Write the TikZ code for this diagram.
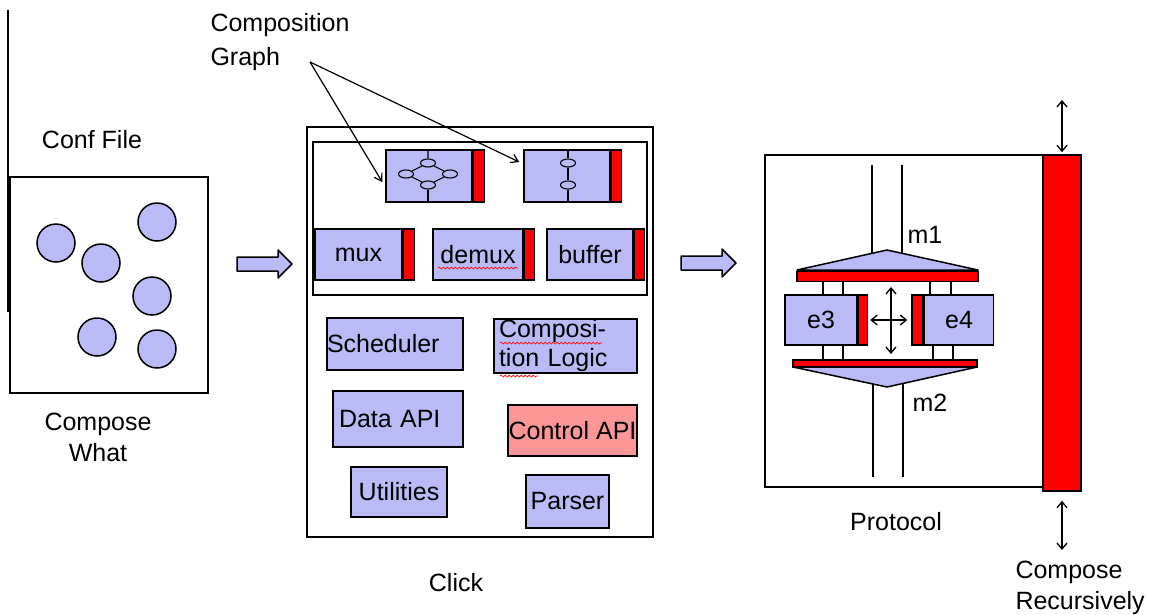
\documentclass[tikz,border=0pt]{standalone}
\usepackage{fontspec}
\setmainfont{Liberation Sans}
\usetikzlibrary{shapes.geometric,arrows.meta,decorations.pathmorphing}
\definecolor{lav}{RGB}{186,186,246}
\definecolor{ctlred}{RGB}{250,150,150}
\def\fatarrow{-- ++(41,0) -- ++(0,-7) -- ++(14,14) -- ++(-14,14) -- ++(0,-7) -- ++(-41,0) -- cycle}
\tikzset{
  blk/.style={draw, fill=lav, line width=1.5, inner sep=0},
  redbar/.style={draw, fill=red, line width=1.5, inner sep=0},
  frame/.style={draw, line width=1.5, inner sep=0},
  dot/.style={circle, draw, fill=lav, line width=1.5, minimum size=38, inner sep=0},
  gnode/.style={ellipse, draw, fill=lav, line width=1.1, minimum width=15, minimum height=8, inner sep=0},
  fat/.style={draw, fill=lav, line width=1.5, line join=round},
  spell/.style={red, line width=0.7, decorate, decoration={snake, amplitude=1pt, segment length=4pt}},
  onearrow/.style={line width=1.2, -{Straight Barb[length=7pt,width=9pt]}},
  twoarrow/.style={line width=1.3, {Straight Barb[length=6pt,width=10pt]}-{Straight Barb[length=6pt,width=10pt]}}
}
\begin{document}
\begin{tikzpicture}[x=1pt, y=-1pt, font=\fontsize{25}{31}\selectfont]
\useasboundingbox (0,0) rectangle (1149,614);
\draw[line width=1.2] (8,10) -- (8,312);
% conf file
\node (conft) at (92,140) {Conf File};
\node[frame, minimum width=198, minimum height=216] (conf) at (109,285) {};
\node[dot] (c1) at (56,243) {};
\node[dot] (c2) at (101,263) {};
\node[dot] (c3) at (157,222) {};
\node[dot] (c4) at (152,296) {};
\node[dot] (c5) at (97,337) {};
\node[dot] (c6) at (157,349) {};
\node[align=center] (what) at (98,437) {Compose\\What};
\draw[fat] (237,257) \fatarrow;
% click
\node[frame, minimum width=346, minimum height=410] (click) at (480,332) {};
\node[frame, minimum width=334, minimum height=153] (elems) at (480,218.5) {};
\node[blk, minimum width=86, minimum height=52] (cg1) at (429,176) {};
\node[redbar, minimum width=11, minimum height=52, anchor=north west] (cg1r) at (cg1.north east) {};
\node[gnode] (g1t) at (428,163) {};
\node[gnode] (g1l) at (406,174) {};
\node[gnode] (g1r) at (450,174) {};
\node[gnode] (g1b) at (428,185) {};
\draw[line width=1.1] (g1t |- cg1.north) -- (g1t) -- (g1l) -- (g1b) -- (g1r) -- (g1t);
\draw[line width=1.1] (g1b) -- (g1b |- cg1.south);
\node[blk, minimum width=86, minimum height=52] (cg2) at (567,176) {};
\node[redbar, minimum width=10, minimum height=52, anchor=north west] (cg2r) at (cg2.north east) {};
\node[gnode] (g2t) at (568,163) {};
\node[gnode] (g2b) at (568,185) {};
\draw[line width=1.1] (g2t |- cg2.north) -- (g2t) -- (g2b) -- (g2b |- cg2.south);
\node[blk, minimum width=87, minimum height=51] (mux) at (358.5,254.5) {mux};
\node[redbar, minimum width=11, minimum height=51, anchor=north west] (muxr) at (mux.north east) {};
\node[blk, minimum width=90, minimum height=51] (demux) at (478,254.5) {demux};
\node[redbar, minimum width=10, minimum height=51, anchor=north west] (demuxr) at (demux.north east) {};
\node[blk, minimum width=86, minimum height=51] (buffer) at (590,254.5) {buffer};
\node[redbar, minimum width=10, minimum height=51, anchor=north west] (bufferr) at (buffer.north east) {};
\draw[spell] (438,268) -- (518,268);
\node[blk, minimum height=52, text width=136, align=left] (sched) at (395,344) {Scheduler};
\node[blk, minimum height=54, text width=133, inner xsep=5, align=left] (logic) at (565.5,346) {Composi-\\[-2pt]tion Logic};
\draw[spell] (500,343) -- (602,343);
\draw[spell] (500,376) -- (538,376);
\node[blk, minimum height=56, text width=118, inner xsep=6, align=left] (data) at (398,419) {Data API};
\node[blk, fill=ctlred, minimum width=129, minimum height=51] (ctl) at (572.5,430.5) {Control API};
\node[blk, minimum width=96, minimum height=50] (util) at (399,492) {Utilities};
\node[blk, minimum width=83, minimum height=53] (parser) at (567.5,501.5) {Parser};
\node (clickt) at (456,583) {Click};
\node[align=left, anchor=west] (cgt) at (207,42) {Composition\\[3pt]Graph};
\coordinate (cgsrc) at (310,62);
\draw[onearrow] (cgsrc) -- ([shift={(-3,6)}]cg1.west);
\draw[onearrow] (cgsrc) -- ([shift={(-4,-14)}]cg2.west);
\draw[fat] (681,256) \fatarrow;
% protocol
\node[frame, minimum width=278, minimum height=332] (proto) at (904,321) {};
\node[redbar, minimum width=38, minimum height=336] (bar) at (1062,323) {};
\draw[line width=1.2] (872,165) -- (872,258);
\draw[line width=1.2] (902,165) -- (902,258);
\draw[line width=1.2] (873,380) -- (873,477);
\draw[line width=1.2] (903,380) -- (903,477);
\draw[fat] (797,270) -- (887,250) -- (978,270) -- cycle;
\node[redbar, minimum width=181, minimum height=10] (m1bar) at (887.5,276.5) {};
\foreach \x in {823,843,930,951} \draw[line width=1.2] (\x,282) -- (\x,295);
\foreach \x in {823,843,933,953} \draw[line width=1.2] (\x,345) -- (\x,360);
\node[blk, minimum width=72, minimum height=50] (e3) at (821,320) {e3};
\node[redbar, minimum width=9, minimum height=50, anchor=north west] (e3r) at (e3.north east) {};
\node[redbar, minimum width=11, minimum height=50] (e4r) at (917.5,320) {};
\node[blk, minimum width=69, minimum height=50, anchor=north west] (e4) at (e4r.north east) {e4};
\draw[fat] (793,367) -- (887,387) -- (977,367) -- cycle;
\node[redbar, minimum width=184, minimum height=7] (m2bar) at (885,363.5) {};
\draw[twoarrow, shorten <=2pt, shorten >=4pt] (e3r.east) -- (e4r.west);
\coordinate (vt) at (891,287);
\coordinate (vb) at (891,354);
\draw[twoarrow] (vt) -- (vb);
\node (m1) at (925,235) {m1};
\node (m2) at (930,403) {m2};
\node (protot) at (896,522) {Protocol};
\coordinate (rtop) at (1062,100);
\coordinate (rbot) at (1062,550);
\draw[twoarrow, shorten >=2pt] (rtop) -- (bar.north);
\draw[twoarrow, shorten <=9pt] (bar.south) -- (rbot);
\node[align=left, anchor=west] (rec) at (1012,588) {Compose\\Recursively};
\end{tikzpicture}
\end{document}
